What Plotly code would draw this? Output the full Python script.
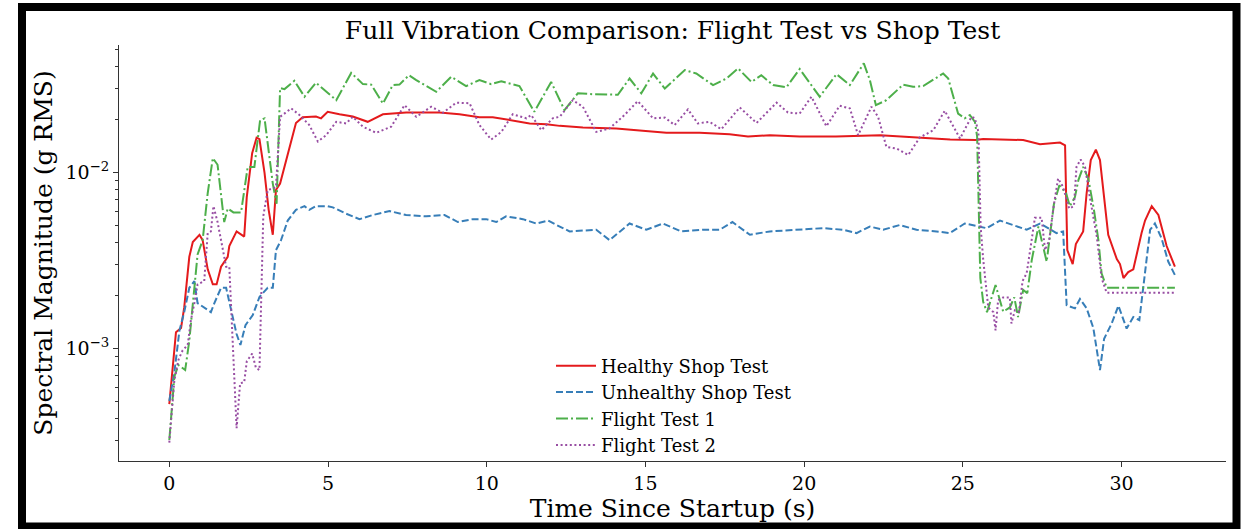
import plotly.graph_objects as go

# ---------------- data ----------------
healthy_t = [0.0, 0.21, 0.37, 0.47, 0.63, 0.74, 0.95, 1.05, 1.21, 1.37, 1.49, 1.63, 1.84, 1.89, 2.12, 2.36,
             2.44, 2.61, 2.75, 2.84, 3.0, 3.13, 3.26, 3.36, 3.49, 3.73, 3.99, 4.2, 4.62, 4.78, 4.99, 5.36,
             5.78, 6.25, 6.73, 7.46, 8.51, 9.14, 9.77, 10.19, 10.82, 11.35, 11.88, 12.3, 13.03, 14.08, 14.82,
             15.66, 16.71, 17.65, 18.23, 18.92, 19.86, 21.0, 22.4, 23.75, 24.6, 25.4, 25.64, 26.9, 27.43,
             28.06, 28.22, 28.29, 28.46, 28.56, 28.79, 28.9, 29.03, 29.19, 29.32, 29.58, 29.85, 29.95, 30.06,
             30.21, 30.37, 30.63, 30.74, 30.95, 31.16, 31.42, 31.68]
healthy_v = [0.00048, 0.00123, 0.0013, 0.0017, 0.0033, 0.0040, 0.0044, 0.0041, 0.0028, 0.0023, 0.0023, 0.0029,
             0.0033, 0.0038, 0.0046, 0.0043, 0.0072, 0.0128, 0.0157, 0.0154, 0.0099, 0.0061, 0.0044, 0.0079,
             0.0086, 0.0128, 0.019, 0.0205, 0.0207, 0.0202, 0.0220, 0.0213, 0.0207, 0.0193, 0.0213, 0.0218,
             0.0218, 0.0213, 0.0205, 0.0205, 0.0197, 0.0189, 0.0187, 0.0183, 0.0179, 0.0177, 0.0172, 0.0167,
             0.0167, 0.0164, 0.0159, 0.0162, 0.0159, 0.0159, 0.0162, 0.0157, 0.0153, 0.0152, 0.0154, 0.0152,
             0.0144, 0.0147, 0.0142, 0.0036, 0.0030, 0.0039, 0.0046, 0.0076, 0.0117, 0.0134, 0.0117, 0.0044,
             0.0032, 0.0030, 0.0025, 0.0027, 0.0028, 0.0045, 0.0053, 0.0064, 0.0057, 0.0038, 0.0029]

unhealthy_t = [0.0, 0.16, 0.32, 0.47, 0.63, 0.79, 0.89, 1.31, 1.42, 1.63, 1.79, 1.94, 2.12, 2.24, 2.4, 2.63,
               2.84, 3.1, 3.26, 3.36, 3.52, 3.73, 3.99, 4.26, 4.41, 4.62, 4.99, 5.15, 5.57, 5.99, 6.41, 6.94,
               7.46, 8.09, 8.67, 9.09, 9.56, 9.98, 10.3, 10.61, 11.14, 11.56, 11.93, 12.3, 12.61, 13.45, 13.87,
               14.5, 15.03, 15.55, 16.13, 16.81, 17.34, 17.74, 18.29, 18.92, 19.86, 20.6, 21.23, 21.65, 22.07,
               22.49, 23.01, 23.54, 24.17, 24.59, 25.06, 25.75, 26.17, 27.01, 27.43, 27.95, 28.16, 28.27,
               28.53, 28.69, 28.9, 29.11, 29.32, 29.45, 29.69, 29.9, 30.16, 30.37, 30.56, 30.69, 30.9, 31.05,
               31.26, 31.47, 31.68]
unhealthy_v = [0.0005, 0.00073, 0.00126, 0.0016, 0.0022, 0.0024, 0.0018, 0.0016, 0.0018, 0.0022, 0.0022,
               0.0017, 0.0012, 0.00104, 0.00135, 0.00154, 0.00195, 0.0022, 0.0022, 0.0036, 0.0041, 0.0053,
               0.0061, 0.0064, 0.0061, 0.0064, 0.0064, 0.0063, 0.0058, 0.0054, 0.0057, 0.0060, 0.0057, 0.0056,
               0.0057, 0.0052, 0.0054, 0.0054, 0.0052, 0.0056, 0.0054, 0.0051, 0.0053, 0.0049, 0.0046, 0.0047,
               0.0041, 0.0051, 0.0047, 0.0051, 0.0046, 0.0047, 0.0047, 0.0052, 0.0044, 0.0046, 0.0047, 0.0048,
               0.0047, 0.0045, 0.0049, 0.0047, 0.0050, 0.0047, 0.0046, 0.0045, 0.0051, 0.0048, 0.0053, 0.0047,
               0.0051, 0.0045, 0.0046, 0.00175, 0.00168, 0.0019, 0.00168, 0.0013, 0.00075, 0.00113, 0.00138,
               0.00174, 0.00129, 0.0015, 0.00144, 0.0022, 0.0047, 0.0051, 0.0042, 0.0031, 0.0026]

flight1_t = [0.0, 0.16, 0.29, 0.5, 0.63, 0.79, 0.89, 1.05, 1.21, 1.37, 1.52, 1.73, 1.84, 2.02, 2.26, 2.47,
             2.68, 2.86, 3.0, 3.26, 3.38, 3.49, 3.63, 3.94, 4.26, 4.62, 5.04, 5.26, 5.73, 6.1, 6.36, 6.73,
             7.04, 7.25, 7.55, 7.78, 8.41, 8.88, 9.35, 9.77, 10.14, 10.46, 11.03, 11.5, 12.03, 12.45, 12.87,
             13.35, 14.13, 14.5, 14.87, 15.24, 15.61, 16.24, 16.6, 17.13, 17.55, 17.92, 18.34, 18.65, 19.02,
             19.44, 19.86, 20.49, 21.02, 21.44, 21.88, 22.07, 22.26, 22.59, 23.12, 23.43, 23.75, 24.38, 24.54,
             24.85, 25.06, 25.22, 25.38, 25.45, 25.55, 25.64, 25.76, 25.9, 26.03, 26.27, 26.48, 26.62, 26.74,
             26.9, 27.03, 27.17, 27.38, 27.51, 27.64, 27.74, 27.87, 28.04, 28.25, 28.37, 28.53, 28.64, 28.79,
             28.95, 29.13, 29.27, 29.37, 29.53, 31.68]
flight1_v = [0.0003, 0.00069, 0.0008, 0.00075, 0.0011, 0.0022, 0.0034, 0.0041, 0.0076, 0.0120, 0.011, 0.0052,
             0.0062, 0.0059, 0.0059, 0.0107, 0.0107, 0.0197, 0.0202, 0.0086, 0.0066, 0.030, 0.0296, 0.033,
             0.0268, 0.0322, 0.0275, 0.0256, 0.0366, 0.0316, 0.0314, 0.0245, 0.0312, 0.0314, 0.0355, 0.0333,
             0.0286, 0.0348, 0.0308, 0.0333, 0.0316, 0.0328, 0.0308, 0.0220, 0.0325, 0.0225, 0.028, 0.0277,
             0.0275, 0.034, 0.028, 0.0363, 0.0298, 0.038, 0.0363, 0.0312, 0.034, 0.0388, 0.0325, 0.0355,
             0.0312, 0.0303, 0.0385, 0.0268, 0.036, 0.0312, 0.0415, 0.0333, 0.0240, 0.0256, 0.0314, 0.0305,
             0.0308, 0.0363, 0.034, 0.0215, 0.0202, 0.0211, 0.0193, 0.0159, 0.0025, 0.00183, 0.0016, 0.0019,
             0.00228, 0.00161, 0.0017, 0.00194, 0.0015, 0.00214, 0.00205, 0.00316, 0.0049, 0.0039, 0.0031,
             0.0043, 0.0066, 0.0084, 0.0076, 0.0064, 0.0072, 0.0090, 0.0107, 0.0092, 0.0061, 0.0041, 0.00266,
             0.0022, 0.0022]

flight2_t = [0.0, 0.16, 0.29, 0.42, 0.58, 0.68, 0.79, 0.89, 1.1, 1.21, 1.31, 1.39, 1.52, 1.68, 1.79, 1.89,
             2.0, 2.12, 2.23, 2.36, 2.44, 2.61, 2.73, 2.84, 2.96, 3.1, 3.36, 3.49, 3.84, 4.1, 4.41, 4.68, 4.94,
             5.26, 5.57, 5.78, 6.1, 6.52, 6.99, 7.41, 7.78, 8.25, 8.62, 9.04, 9.46, 9.77, 10.14, 10.46, 10.82,
             11.25, 11.4, 11.72, 12.08, 12.3, 12.71, 13.03, 13.45, 13.87, 14.34, 14.76, 15.24, 15.61, 15.92,
             16.34, 16.65, 17.02, 17.39, 17.97, 18.5, 19.13, 19.49, 19.86, 20.23, 20.7, 21.12, 21.44, 21.7,
             22.12, 22.33, 22.59, 22.91, 23.28, 23.64, 24.07, 24.43, 24.91, 25.27, 25.38, 25.49, 25.56, 25.64,
             25.8, 25.96, 26.03, 26.11, 26.27, 26.48, 26.53, 26.64, 26.77, 26.88, 27.01, 27.11, 27.27, 27.48,
             27.59, 27.72, 27.85, 28.0, 28.16, 28.35, 28.5, 28.58, 28.71, 28.85, 29.0, 29.22, 29.37, 29.53,
             31.68]
flight2_v = [0.00029, 0.00066, 0.00086, 0.00097, 0.00104, 0.00144, 0.0018, 0.0023, 0.0024, 0.0045, 0.0046,
             0.0064, 0.0052, 0.0037, 0.0029, 0.0029, 0.0011, 0.00035, 0.00063, 0.00064, 0.00084, 0.00093,
             0.00077, 0.00075, 0.0056, 0.0079, 0.0082, 0.0206, 0.0230, 0.0211, 0.0185, 0.0149, 0.0162, 0.0193,
             0.0189, 0.0206, 0.0181, 0.0167, 0.0181, 0.024, 0.0206, 0.0235, 0.0217, 0.0248, 0.0246, 0.0185,
             0.0153, 0.0169, 0.0213, 0.0202, 0.0211, 0.0173, 0.0202, 0.0206, 0.0256, 0.0235, 0.0169, 0.0177,
             0.0211, 0.0253, 0.0202, 0.0204, 0.0185, 0.0227, 0.0189, 0.0193, 0.0175, 0.0233, 0.0190, 0.0248,
             0.0218, 0.0215, 0.0268, 0.0182, 0.0238, 0.023, 0.0162, 0.0235, 0.0206, 0.0139, 0.0136, 0.0125,
             0.0157, 0.0173, 0.0223, 0.0155, 0.0206, 0.0202, 0.0169, 0.0049, 0.0032, 0.0017, 0.0016, 0.00126,
             0.00187, 0.00194, 0.00194, 0.00138, 0.00164, 0.00161, 0.0024, 0.00266, 0.0035, 0.0055, 0.0055,
             0.0036, 0.0041, 0.0062, 0.0092, 0.0082, 0.0062, 0.0064, 0.0107, 0.0118, 0.0107, 0.0072, 0.0043,
             0.0025, 0.00206, 0.00206]

series_names = ["Healthy Shop Test", "Unhealthy Shop Test", "Flight Test 1", "Flight Test 2"]
y_tick_vals = [1e-3, 1e-2]
y_tick_text = ["10<sup>\u22123</sup>", "10<sup>\u22122</sup>"]
x_tick_vals = [0, 5, 10, 15, 20, 25, 30]

# ---------------- styling ----------------
FONT = "DejaVu Serif"
colors = ["#e41a1c", "#377eb8", "#4daf4a", "#984ea3"]
dashes = ["solid", "7px,3px", "12px,3px,2px,3px", "2px,2.6px"]

W, H = 1243, 529
L, R, T, B = 119, 1226, 45, 461  # plot area in pixels


def px_x(p):
    return (p - L) / (R - L)


def px_y(p):
    return (B - p) / (B - T)


fig = go.Figure()
for name, t, v, c, d in zip(series_names,
                            [healthy_t, unhealthy_t, flight1_t, flight2_t],
                            [healthy_v, unhealthy_v, flight1_v, flight2_v],
                            colors, dashes):
    fig.add_trace(go.Scatter(x=t, y=v, mode="lines", name=name,
                             line=dict(color=c, width=2, dash=d)))

minor_vals = [m * 10 ** e for e in (-4, -3, -2) for m in range(2, 10)]

fig.update_layout(
    width=W, height=H,
    margin=dict(l=L, r=W - R, t=T, b=H - B, autoexpand=False),
    paper_bgcolor="white", plot_bgcolor="white",
    font=dict(family=FONT, color="black", size=18),
    title=dict(text="Full Vibration Comparison: Flight Test vs Shop Test",
               font=dict(family=FONT, size=25, color="black"),
               x=(L + R) / 2 / W, xanchor="center", y=1 - 30 / H, yanchor="middle"),
    showlegend=True,
    legend=dict(x=px_x(551), xanchor="left", y=-0.006, yanchor="bottom",
                bgcolor="rgba(0,0,0,0)", borderwidth=0,
                font=dict(family=FONT, size=18, color="black"),
                itemwidth=40),
    xaxis=dict(range=[-1.585, 33.29], showgrid=False, zeroline=False,
               showline=True, linecolor="#333333", linewidth=1,
               ticks="outside", ticklen=5, tickcolor="#333333",
               tickvals=x_tick_vals, tickfont=dict(family=FONT, size=19),
               title=dict(text="Time Since Startup (s)", font=dict(family=FONT, size=25), standoff=0)),
    yaxis=dict(type="log", range=[-3.642, -1.278], showgrid=False, zeroline=False,
               showline=True, linecolor="#333333", linewidth=1,
               ticks="outside", ticklen=5, tickcolor="#333333",
               tickvals=y_tick_vals, ticktext=y_tick_text, tickfont=dict(family=FONT, size=19),
               minor=dict(tickvals=minor_vals, ticks="outside", ticklen=3, tickcolor="#333333", showgrid=False),
               title=dict(text="Spectral Magnitude (g RMS)", font=dict(family=FONT, size=25), standoff=5)),
)

# frame border around the whole image
fig.add_shape(type="rect", xref="paper", yref="paper",
              x0=px_x(22), x1=px_x(1236.5), y0=px_y(526.5), y1=px_y(7),
              line=dict(color="black", width=8), fillcolor="rgba(0,0,0,0)", layer="above")

fig.write_html("out.html", config={"displayModeBar": False},
               post_script="document.body.style.margin='0px';")
